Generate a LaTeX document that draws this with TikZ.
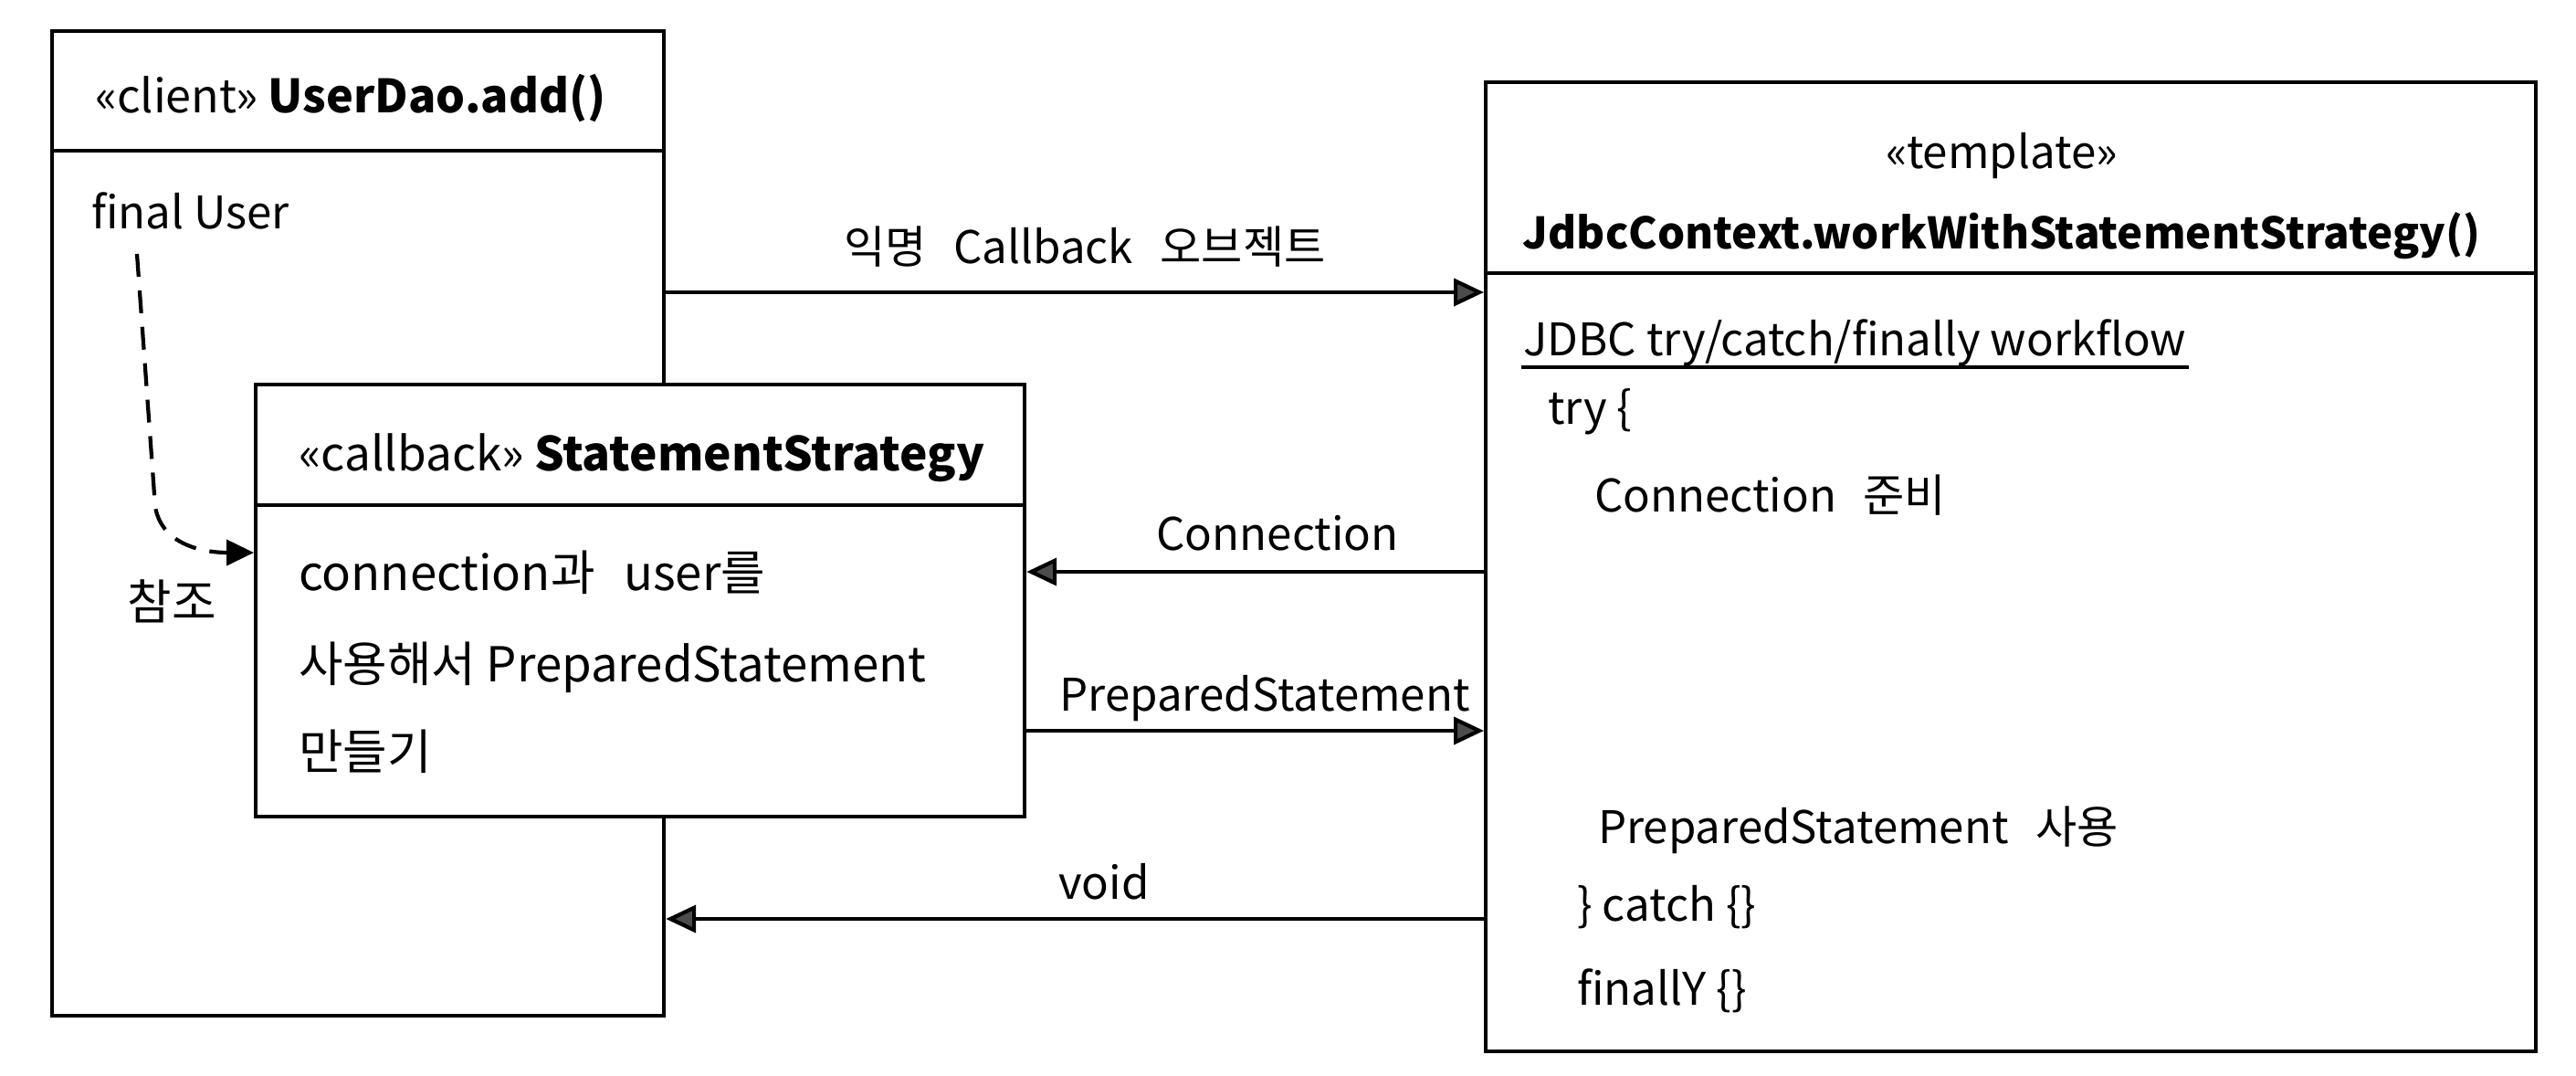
\documentclass[tikz,border=0pt]{standalone}
\usepackage{fontspec}
\setmainfont{Noto Sans CJK KR}
\usetikzlibrary{arrows.meta,positioning}
\newcommand{\gap}{\hspace{0.6em}}

\begin{document}
\begin{tikzpicture}[line width=1.2pt,
  every node/.style={font=\fontsize{14pt}{17pt}\selectfont, inner sep=0pt},
  box/.style={draw, rectangle, anchor=north west, fill=white},
  txt/.style={anchor=base west},
  lbl/.style={anchor=base},
  big/.style={font=\fontsize{15pt}{18pt}\selectfont},
  flow/.style={-{Triangle[length=0.33cm, width=0.30cm, fill=black!70]}},
  refer/.style={dash pattern=on 0.25cm off 0.15cm, -{Triangle[length=0.30cm, width=0.28cm]}}]
  \useasboundingbox (0,0) rectangle (28.21,-11.77);

  \node[box, minimum width=6.7cm, minimum height=10.78cm] (C) at (0.55,-0.32) {};
  \draw ([yshift=-1.33cm]C.north west) -- ([yshift=-1.33cm]C.north east);
  \node[txt, font=\fontsize{14.3pt}{17pt}\selectfont] (CH) at (1.02,-1.23) {«client» \textbf{UserDao.add()}};
  \node[txt] (U) at (0.98,-2.50) {final User};

  \node[box, minimum width=11.5cm, minimum height=10.61cm] (T) at (16.25,-0.88) {};
  \draw ([yshift=-2.11cm]T.north west) -- ([yshift=-2.11cm]T.north east);
  \node[lbl] (TS) at (21.92,-1.84) {«template»};
  \node[lbl, font=\fontsize{13.5pt}{17pt}\selectfont] (TH) at (21.92,-2.72) {\textbf{JdbcContext.workWithStatementStrategy()}};
  \node[txt] (W) at (16.66,-3.89) {JDBC try/catch/finally workflow};
  \draw[line width=1pt] ([yshift=-0.13cm]W.base west) -- ([yshift=-0.13cm]W.base east);
  \node[txt] (T1) at (16.93,-4.64) {try \{};
  \node[txt] (T2) at (17.44,-5.60) {Connection\gap 준비};
  \node[txt] (T3) at (17.48,-9.23) {PreparedStatement\gap 사용};
  \node[txt] (T4) at (17.25,-10.08) {\} catch \{\}};
  \node[txt] (T5) at (17.25,-11.00) {finallY \{\}};

  \node[box, minimum width=8.42cm, minimum height=4.73cm] (S) at (2.78,-4.19) {};
  \draw ([yshift=-1.34cm]S.north west) -- ([yshift=-1.34cm]S.north east);
  \node[txt, font=\fontsize{14.6pt}{17pt}\selectfont] (SH) at (3.25,-5.15) {«callback» \textbf{StatementStrategy}};
  \node[txt, big] (S1) at (3.25,-6.46) {connection과\gap user를};
  \node[txt, big] (S2) at (3.25,-7.46) {사용해서 PreparedStatement};
  \node[txt, big] (S3) at (3.25,-8.42) {만들기};

  \coordinate (d0) at (1.50,-2.78);
  \coordinate (d1) at (1.70,-5.55);
  \coordinate (d2) at (0,-6.05);
  \draw[refer] (d0) -- (d1) to[out=-80, in=180] (S.west |- d2);
  \node[lbl, big] (R) at (1.88,-6.78) {참조};

  \coordinate (r1) at (0,-3.20);
  \coordinate (r2) at (0,-6.26);
  \coordinate (r3) at (0,-8.00);
  \coordinate (r4) at (0,-10.06);
  \draw[flow] (C.east |- r1) -- (T.west |- r1);
  \draw[flow] (T.west |- r2) -- (S.east |- r2);
  \draw[flow] (S.east |- r3) -- (T.west |- r3);
  \draw[flow] (T.west |- r4) -- (C.east |- r4);
  \node[lbl] (A1) at (11.88,-2.88) {익명\gap Callback\gap 오브젝트};
  \node[lbl] (A2) at (13.99,-6.02) {Connection};
  \node[lbl] (A3) at (13.85,-7.78) {PreparedStatement};
  \node[lbl] (A4) at (12.09,-9.84) {void};
\end{tikzpicture}
\end{document}
